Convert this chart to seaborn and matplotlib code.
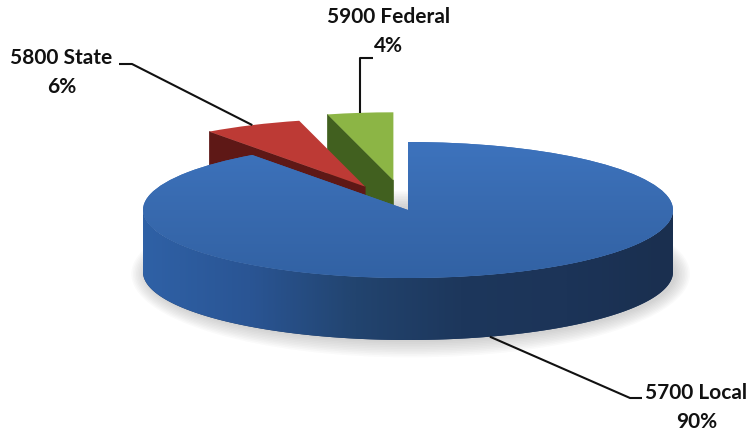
import numpy as np
import matplotlib
matplotlib.use("Agg")
import matplotlib.pyplot as plt
from matplotlib.patches import Ellipse, Polygon
import seaborn as sns

# Revenue sources by fund
categories = ["5700 Local", "5800 State", "5900 Federal"]
shares = [90, 6, 4]
pct_labels = ["90%", "6%", "4%"]

sns.set_theme(style="white")
plt.rcParams["font.family"] = ["Lato", "DejaVu Sans"]

W, H = 753, 436
fig = plt.figure(figsize=(W / 100, H / 100), dpi=100)
ax = fig.add_axes([0, 0, 1, 1])

# pie placement in pixels: centre, horizontal / vertical radius, thickness
CX, CY, RX, RY = 408, 210, 265, 68
DEPTH = 62 / RY


def px(x, y):
    """Pixel position -> data coordinates of the squashed pie axes."""
    return ((x - CX) / RX, (CY - y) / RY)


top_colors = ["#3a6db5", "#bd3a35", "#8cb545"]
face_colors = ["#1e3860", "#5e1816", "#41601f"]

wedges, _ = ax.pie(shares, explode=[0, 0.38, 0.44], startangle=90,
                   counterclock=False, colors=top_colors, radius=1,
                   wedgeprops=dict(linewidth=0))
ax.set_aspect("auto")

# stacking: federal behind state, local in front
order_z = {0: 5.0, 1: 3.0, 2: 2.0}


def radial_faces(w, color, z):
    cx, cy = w.center
    for t, sign in ((w.theta2, -1), (w.theta1, 1)):
        c = np.cos(np.radians(t))
        if sign * c > 1e-6:  # face turned toward the viewer
            ex, ey = cx + w.r * np.cos(np.radians(t)), cy + w.r * np.sin(np.radians(t))
            poly = [(cx, cy), (ex, ey), (ex, ey - DEPTH), (cx, cy - DEPTH)]
            ax.add_patch(Polygon(poly, closed=True, facecolor=color,
                                 edgecolor=color, lw=0.5, zorder=z - 0.5))


side_cmap = sns.blend_palette(["#2f61a6", "#2a5594", "#22446f", "#1d375c",
                               "#1c3458", "#1a2f4f"], as_cmap=True)


def outer_side(w, z):
    """Front rim of a slice, shaded from left to right."""
    cx, cy = w.center
    lo = max(w.theta1, -180.0)
    hi = min(w.theta2, 0.0)
    phi = np.radians(np.linspace(lo, hi, 400))
    top = np.column_stack([cx + np.cos(phi), cy + np.sin(phi)])
    bot = top[::-1] - [0, DEPTH]
    outline = np.vstack([top, bot])
    rim = Polygon(outline, closed=True, facecolor=face_colors[0],
                  edgecolor="none", zorder=z - 0.6)
    ax.add_patch(rim)
    grad = np.linspace(0, 1, 512).reshape(1, -1)
    im = ax.imshow(grad, extent=(cx - 1, cx + 1, cy - 1 - DEPTH, cy),
                   origin="lower", cmap=side_cmap, aspect="auto",
                   zorder=z - 0.5, interpolation="bilinear")
    im.set_clip_path(rim)


# soft shadow under the disc
for k in range(10):
    ax.add_patch(Ellipse((0.01, -DEPTH - 0.03), 2.0 + 0.012 * k,
                         2.0 + 0.05 * k, facecolor="#7a7a7a",
                         edgecolor="none", alpha=0.035, zorder=0.5))

for i, w in enumerate(wedges):
    z = order_z[i]
    w.set_zorder(z)
    radial_faces(w, face_colors[i], z)
    if i == 0:
        outer_side(w, z)

# shaded top of the large slice
grad = np.linspace(0, 1, 256).reshape(-1, 1)
top_cmap = sns.blend_palette(["#3262a4", "#386aaf", "#3d73bd"], as_cmap=True)
cx0, cy0 = wedges[0].center
im = ax.imshow(grad, extent=(cx0 - 1, cx0 + 1, cy0 - 1, cy0 + 1),
               origin="lower", cmap=top_cmap, aspect="auto",
               zorder=5.1, interpolation="bilinear")
im.set_clip_path(wedges[0])

ax.set_xlim(-CX / RX, (W - CX) / RX)
ax.set_ylim(-(H - CY) / RY, CY / RY)
ax.axis("off")

# anchors for the leader lines
anchors = []
for i, w in enumerate(wedges):
    mid = np.radians(0.5 * (w.theta1 + w.theta2))
    ax_, ay_ = w.center[0] + np.cos(mid), w.center[1] + np.sin(mid)
    if i == 0:
        ay_ -= DEPTH
    anchors.append((ax_, ay_))

line_kw = dict(color="#111111", lw=1.5, solid_capstyle="butt", zorder=8)

# Local
p1, p2 = px(630, 398), px(642, 398)
ax.plot([anchors[0][0], p1[0], p2[0]], [anchors[0][1], p1[1], p2[1]], **line_kw)
# State
p1, p2 = px(119, 64), px(132, 64)
ax.plot([p1[0], p2[0], anchors[1][0]], [p1[1], p2[1], anchors[1][1]], **line_kw)
# Federal
ya = px(0, 58)[1]
ax.plot([anchors[2][0] + 13 / RX, anchors[2][0], anchors[2][0]],
        [ya, ya, anchors[2][1]], **line_kw)

text_kw = dict(ha="center", va="baseline", fontsize=15, fontweight="bold",
               color="#111111", zorder=9)
label_pos = {0: ((696, 399), (697, 428)),
             1: ((61, 64), (62, 93)),
             2: ((389, 23), (388, 52))}
for i, name in enumerate(categories):
    (nx, ny), (vx, vy) = label_pos[i]
    ax.text(*px(nx, ny), name, **text_kw)
    ax.text(*px(vx, vy), pct_labels[i], **text_kw)

fig.savefig("out.png", dpi=100)
